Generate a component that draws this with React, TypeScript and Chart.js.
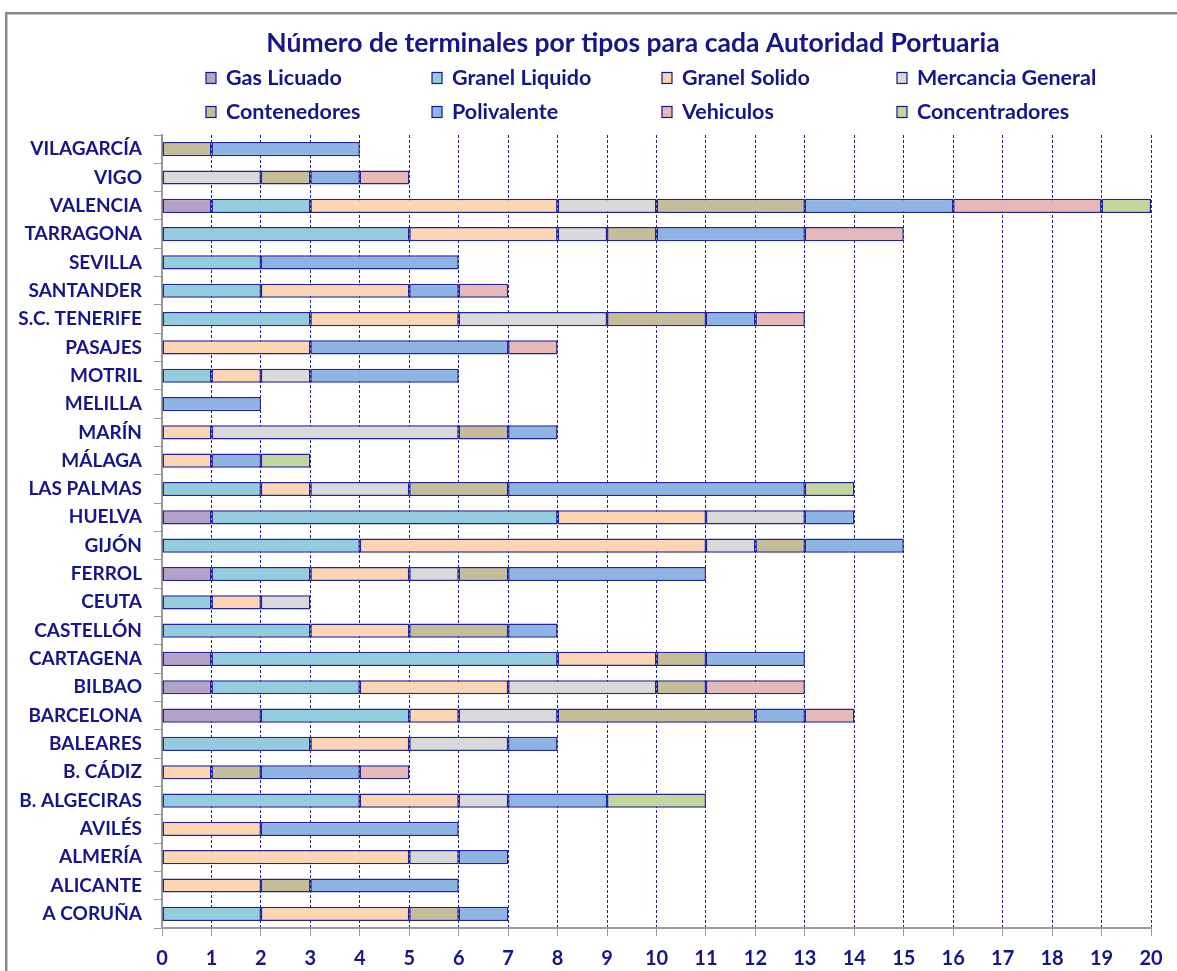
import React, { useEffect, useRef } from "react";
import { Chart, registerables } from "chart.js";

Chart.register(...registerables);

const TITLE = "Número de terminales por tipos para cada Autoridad Portuaria";

const categories = [
  "VILAGARCÍA", "VIGO", "VALENCIA", "TARRAGONA", "SEVILLA", "SANTANDER", "S.C. TENERIFE",
  "PASAJES", "MOTRIL", "MELILLA", "MARÍN", "MÁLAGA", "LAS PALMAS", "HUELVA", "GIJÓN",
  "FERROL", "CEUTA", "CASTELLÓN", "CARTAGENA", "BILBAO", "BARCELONA", "BALEARES",
  "B. CÁDIZ", "B. ALGECIRAS", "AVILÉS", "ALMERÍA", "ALICANTE", "A CORUÑA",
];

const seriesNames = [
  "Gas Licuado", "Granel Liquido", "Granel Solido", "Mercancia General",
  "Contenedores", "Polivalente", "Vehiculos", "Concentradores",
];

const gasLicuado = [0, 0, 1, 0, 0, 0, 0, 0, 0, 0, 0, 0, 0, 1, 0, 1, 0, 0, 1, 1, 2, 0, 0, 0, 0, 0, 0, 0];
const granelLiquido = [0, 0, 2, 5, 2, 2, 3, 0, 1, 0, 0, 0, 2, 7, 4, 2, 1, 3, 7, 3, 3, 3, 0, 4, 0, 0, 0, 2];
const granelSolido = [0, 0, 5, 3, 0, 3, 3, 3, 1, 0, 1, 1, 1, 3, 7, 2, 1, 2, 2, 3, 1, 2, 1, 2, 2, 5, 2, 3];
const mercanciaGeneral = [0, 2, 2, 1, 0, 0, 3, 0, 1, 0, 5, 0, 2, 2, 1, 1, 1, 0, 0, 3, 2, 2, 0, 1, 0, 1, 0, 0];
const contenedores = [1, 1, 3, 1, 0, 0, 2, 0, 0, 0, 1, 0, 2, 0, 1, 1, 0, 2, 1, 1, 4, 0, 1, 0, 0, 0, 1, 1];
const polivalente = [3, 1, 3, 3, 4, 1, 1, 4, 3, 2, 1, 1, 6, 1, 2, 4, 0, 1, 2, 0, 1, 1, 2, 2, 4, 1, 3, 1];
const vehiculos = [0, 1, 3, 2, 0, 1, 1, 1, 0, 0, 0, 0, 0, 0, 0, 0, 0, 0, 0, 2, 1, 0, 1, 0, 0, 0, 0, 0];
const concentradores = [0, 0, 1, 0, 0, 0, 0, 0, 0, 0, 0, 1, 1, 0, 0, 0, 0, 0, 0, 0, 0, 0, 0, 2, 0, 0, 0, 0];

const seriesValues = [
  gasLicuado, granelLiquido, granelSolido, mercanciaGeneral,
  contenedores, polivalente, vehiculos, concentradores,
];

const xTicks = [0, 20];

const colors = ["#B3A2C7", "#93CDDD", "#FCD5B5", "#D9D9D9", "#C4BD97", "#8EB4E3", "#E6B9B8", "#C3D69B"];
const NAVY = "#16168a";
const FONT = "Lato, 'Open Sans', sans-serif";

const titleLegendPlugin = {
  id: "titleLegend",
  afterDraw(chart: any) {
    const ctx = chart.ctx;
    ctx.save();
    ctx.fillStyle = NAVY;
    ctx.font = `bold 26.5px ${FONT}`;
    ctx.textAlign = "center";
    ctx.textBaseline = "middle";
    ctx.fillText(TITLE, 633, 43);
    const cols = [211, 437, 667, 902];
    const rows = [78, 112];
    ctx.font = `bold 21.5px ${FONT}`;
    ctx.textAlign = "left";
    chart.data.datasets.forEach((ds: any, i: number) => {
      const x = cols[i % 4];
      const y = rows[Math.floor(i / 4)];
      ctx.fillStyle = ds.backgroundColor;
      ctx.fillRect(x - 5, y - 5.5, 10, 11);
      ctx.strokeStyle = NAVY;
      ctx.lineWidth = 1.2;
      ctx.strokeRect(x - 5, y - 5.5, 10, 11);
      ctx.fillStyle = NAVY;
      ctx.fillText(ds.label, x + 15, y);
    });
    ctx.restore();
  },
};

export default function App() {
  const ref = useRef<HTMLCanvasElement | null>(null);
  useEffect(() => {
    if (!ref.current) return;
    const chart = new Chart(ref.current, {
      type: "bar",
      data: {
        labels: categories,
        datasets: seriesNames.map((name, i) => ({
          label: name,
          data: seriesValues[i].map((v) => (v === 0 ? null : v)),
          backgroundColor: colors[i],
          borderColor: "#23239a",
          borderWidth: 1.5,
          borderSkipped: false,
          barPercentage: 0.5,
          categoryPercentage: 1,
        })),
      },
      options: {
        indexAxis: "y",
        animation: false,
        responsive: false,
        devicePixelRatio: 1,
        layout: { padding: { top: 135, left: 0, right: 26, bottom: 0 } },
        plugins: {
          legend: { display: false },
          title: { display: false },
          tooltip: { enabled: false },
        },
        scales: {
          x: {
            stacked: true,
            min: xTicks[0],
            max: xTicks[1],
            ticks: {
              stepSize: 1,
              color: NAVY,
              font: { family: FONT, size: 20, weight: "bold" },
              padding: 11,
            },
            grid: {
              color: "#1f1f9a",
              lineWidth: 1,
              tickColor: "#9a9a9a",
              tickLength: 8,
              tickBorderDash: [],
            } as any,
            border: { display: true, color: "#9a9a9a", width: 2, dash: [3, 2] } as any,
            afterFit(scale: any) {
              scale.height = 43;
            },
          },
          y: {
            stacked: true,
            ticks: {
              color: NAVY,
              font: { family: FONT, size: 19, weight: "bold" },
              padding: 12,
            },
            grid: {
              display: true,
              drawOnChartArea: false,
              drawTicks: true,
              tickLength: 8,
              color: "#9a9a9a",
              offset: true,
            },
            border: { display: true, color: "#9a9a9a", width: 2 },
            afterFit(scale: any) {
              scale.width = 162;
            },
          },
        },
      },
      plugins: [titleLegendPlugin],
    } as any);
    return () => chart.destroy();
  }, []);

  return (
    <div style={{ position: "fixed", left: 0, top: 0, width: 1177, height: 971, overflow: "hidden", background: "#fff" }}>
      <div
        style={{
          position: "absolute",
          left: 5,
          top: 12,
          width: 1300,
          height: 1100,
          border: "2px solid #8a8a8a",
          boxShadow: "inset 1px 1px 0 #c4c4c4",
        }}
      />
      <canvas ref={ref} width={1177} height={971} style={{ position: "absolute", left: 0, top: 0, width: 1177, height: 971 }} />
    </div>
  );
}
